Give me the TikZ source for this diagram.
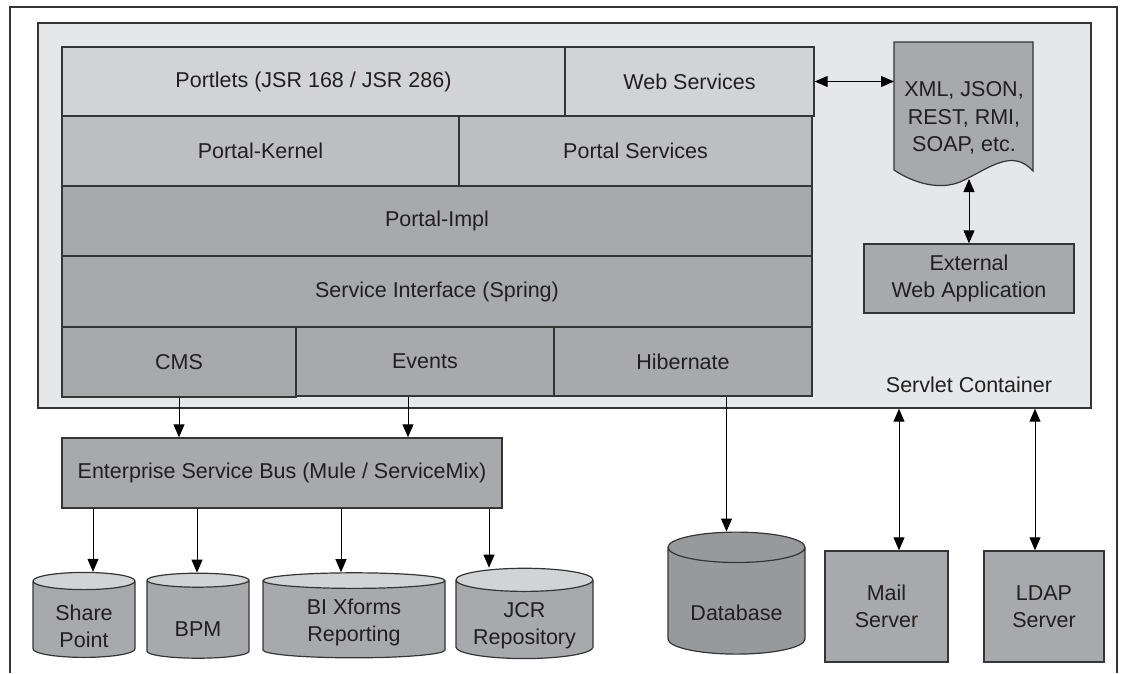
\documentclass[tikz,border=0pt]{standalone}
\usepackage{fontspec}
\setmainfont{Liberation Sans}
\usepackage{tikz}
\usetikzlibrary{shapes.geometric, arrows.meta}
\usepackage{xcolor}
\definecolor{frameline}{HTML}{353535}
\definecolor{contfill}{HTML}{E6E7E8}
\definecolor{lgray}{HTML}{D1D3D4}
\definecolor{mgray}{HTML}{BCBEC0}
\definecolor{dgray}{HTML}{A7A9AC}
\definecolor{ddgray}{HTML}{97999B}
\definecolor{txtcol}{HTML}{231F20}
\newcommand{\lowtext}[2]{\raisebox{-#1}[\height][\depth]{\begin{tabular}{@{}c@{}}#2\end{tabular}}}

\begin{document}
\begin{tikzpicture}
		[   x=1pt, y=-1pt,
			font=\fontsize{21.5pt}{27.5pt}\selectfont,
			bnode/.style={draw=frameline,line width=1.4pt,fill=#1,inner sep=0pt,align=center,text=txtcol},
			dnode/.style={cylinder,shape border rotate=90,draw=frameline,line width=1.2pt,cylinder uses custom fill,cylinder body fill=#1,cylinder end fill=lgray,inner sep=0pt,text=txtcol},
		]
		\tikzset{normal arrow/.style={draw=black,line width=1pt,-{Triangle[length=13pt,width=11pt]}}}
		\tikzset{both arrow/.style={draw=black,line width=1pt,{Triangle[length=13pt,width=11pt]}-{Triangle[length=13pt,width=11pt]}}}
		\useasboundingbox (0,0) rectangle (1128,673);
		\draw[frameline,line width=1.3pt] (10,673) -- (10,7) -- (1117,7) -- (1117,673);
		
		\node[bnode=contfill,minimum width=1053pt,minimum height=385pt] (sc) at (564.5,215.5) {};
		\node[text=txtcol] (sc-l) at (969,385) {Servlet Container};
		
		\node[bnode=lgray,minimum width=503pt,minimum height=69pt] (r-1) at (313.5,81.5) {Portlets (JSR 168 / JSR 286)};
		\node[bnode=lgray,minimum width=249pt,minimum height=69pt] (r-2) at (689.5,81.5) {Web Services};
		
		\node[bnode=mgray,minimum width=397pt,minimum height=70pt] (k-1) at (260.5,151) {Portal-Kernel};
		\node[bnode=mgray,minimum width=353pt,minimum height=70pt] (k-2) at (635.5,151) {Portal Services};
		
		\node[bnode=dgray,minimum width=750pt,minimum height=70pt] (i-1) at (437,221) {Portal-Impl};
		\node[bnode=dgray,minimum width=750pt,minimum height=71pt] (i-2) at (437,291.5) {Service Interface (Spring)};
		
		\node[bnode=dgray,minimum width=234pt,minimum height=70pt] (c-1) at (179,362) {CMS};
		\node[bnode=dgray,minimum width=258pt,minimum height=69pt] (c-2) at (425,361.5) {Events};
		\node[bnode=dgray,minimum width=258pt,minimum height=69pt] (c-3) at (683,361.5) {Hibernate};
		
		\filldraw[draw=frameline,fill=dgray,line width=1.2pt] (894,42) -- (1033,42) -- (1033,171)
			.. controls (1012,148) and (990,168) .. (960,182)
			.. controls (940,190) and (915,184) .. (894,170) -- cycle;
		\node[text=txtcol,align=center] (doc) at (964,118) {XML, JSON,\\REST, RMI,\\SOAP, etc.};
		\coordinate (doc-w) at (894,83);
		\coordinate (doc-s) at (969,179);
		
		\node[bnode=dgray,minimum width=210pt,minimum height=69pt] (ext) at (969,278.5) {External\\Web Application};
		
		\node[bnode=dgray,minimum width=440pt,minimum height=70pt] (esb) at (282,473) {Enterprise Service Bus (Mule / ServiceMix)};
		
		\node[dnode=dgray,minimum width=102pt,minimum height=85pt,aspect=0.3] (d-1) at (84,619.5) {\lowtext{9pt}{Share\\Point}};
		\node[dnode=dgray,minimum width=102pt,minimum height=85pt,aspect=0.3] (d-2) at (198,619.5) {\lowtext{11pt}{BPM}};
		\node[dnode=dgray,minimum width=182pt,minimum height=85pt,aspect=0.165] (d-3) at (354,619.5) {\lowtext{3pt}{BI Xforms\\Reporting}};
		\node[dnode=dgray,minimum width=137pt,minimum height=85pt,aspect=0.225] (d-4) at (524.5,619.5) {\lowtext{6pt}{JCR\\Repository}};
		
		\node[dnode=ddgray,cylinder end fill=ddgray,minimum width=137pt,minimum height=122pt,aspect=0.33] (db) at (736.5,601) {\lowtext{14pt}{Database}};
		
		\node[bnode=dgray,minimum width=123pt,minimum height=111pt] (s-1) at (886.5,606.5) {Mail\\Server};
		\node[bnode=dgray,minimum width=120pt,minimum height=111pt] (s-2) at (1044,606.5) {LDAP\\Server};
		
		\path[both arrow] (r-2.east) -- (r-2.east -| doc-w);
		\path[both arrow] (doc-s) -- (ext.north);
		
		\path[normal arrow] (c-1.south) -- (c-1.south |- esb.north);
		\path[normal arrow] ([xshift=-17pt]c-2.south) -- ([xshift=-17pt]c-2.south |- esb.north);
		
		\foreach \x/\s in {1/9,2/-1,3/-13,4/-35.5}
		{
			\path[normal arrow] ([xshift=\s pt]d-\x.north |- esb.south) -- ([xshift=\s pt]d-\x.north);
		}
		
		\path[normal arrow] ([xshift=-10pt]db.north |- c-3.south) -- ([xshift=-10pt]db.north);
		
		\path[both arrow] ([xshift=12.5pt]s-1.north) -- ([xshift=12.5pt]s-1.north |- sc.south);
		\path[both arrow] ([xshift=-9pt]s-2.north) -- ([xshift=-9pt]s-2.north |- sc.south);
		\end{tikzpicture}
\end{document}
